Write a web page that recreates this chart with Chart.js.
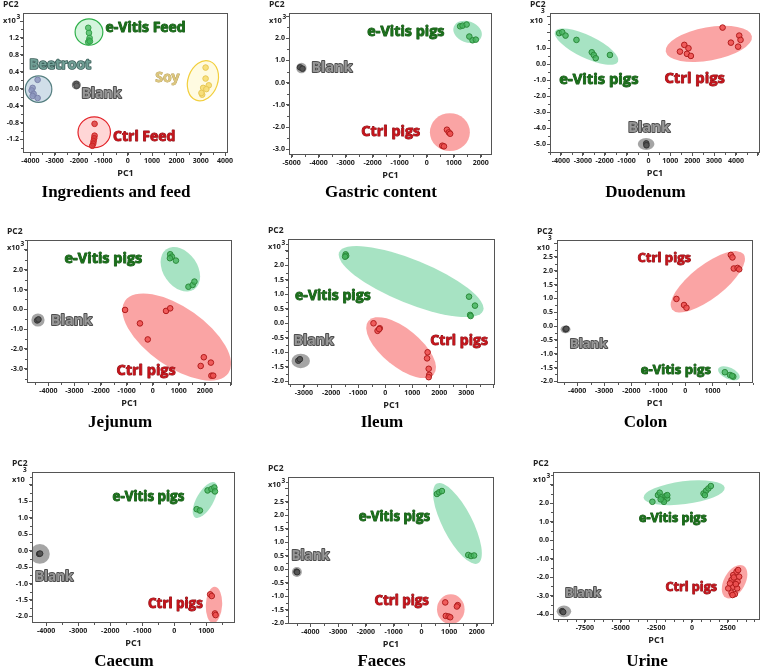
<!DOCTYPE html>
<html>
<head>
<meta charset="utf-8">
<script src="https://cdn.jsdelivr.net/npm/chart.js@4.4.1/dist/chart.umd.min.js"></script>
<style>
  body { margin: 0; background: #fff; }
  #wrap { position: relative; width: 763px; height: 671px; overflow: hidden; }
  .panel { position: absolute; }
  .title { position: absolute; font: bold 17px "Liberation Serif", "Times New Roman", serif; color: #000;
           white-space: nowrap; transform: translate(-50%, -50%); }
</style>
</head>
<body>
<div id="wrap"></div>
<script>
// PCA score values: PC1 as is, PC2 in units of 10^3.
// Ellipses are [centreX, centreY, axisEndX, axisEndY, minor/major ratio] in data units.

// Ingredients and feed
const ingGroups = ["Beetroot", "Blank", "e-Vitis Feed", "Soy", "Ctrl Feed"];
const ingBeet = [[-3700, 0.21], [-3905, 0.02], [-3946, -0.04], [-3864, -0.12], [-3905, -0.17], [-3700, -0.22]];
const ingBlank = [[-2110, 0.11], [-2095, 0.07]];
const ingEVitis = [[-1620, 1.44], [-1590, 1.32], [-1565, 1.20], [-1590, 1.14], [-1620, 1.10], [-1550, 1.12]];
const ingSoy = [[3200, 0.50], [3200, 0.24], [3100, 0.02], [3330, 0.08], [3230, -0.01], [3060, -0.14], [3030, -0.10]];
const ingCtrl = [[-1360, -0.83], [-1360, -1.11], [-1375, -1.17], [-1400, -1.24], [-1415, -1.30], [-1455, -1.35]];
const ingEllipses = [[-3660, -0.01, -3116, -0.01, 1], [-2110, 0.09, -1950, 0.09, 1], [-1590, 1.34, -1020, 1.34, 0.95],
                     [3090, 0.19, 3370, 0.65, 0.72], [-1374, -1.03, -707, -1.03, 0.95]];
const ingLabels = [[-4040, 0.55], [-1900, -0.13], [-910, 1.44], [1130, 0.25], [-600, -1.14]];

const pigGroups = ["e-Vitis pigs", "Ctrl pigs", "Blank"];

// Gastric content
const gasEVitis = [[1240, 2.54], [1330, 2.57], [1480, 2.62], [1580, 2.08], [1700, 1.91], [1820, 1.94]];
const gasCtrl = [[750, -2.12], [820, -2.24], [870, -2.30], [580, -2.84], [640, -2.87]];
const gasBlank = [[-4690, 0.69], [-4600, 0.63]];
const gasEllipses = [[1515, 2.29, 2025, 2.06, 0.72], [860, -2.23, 1600, -2.23, 0.95], [-4640, 0.66, -4446, 0.66, 1]];
const gasLabels = [[-2200, 2.29], [-2420, -2.23], [-4270, 0.65]];

// Duodenum
const duoEVitis = [[-4080, 1.94], [-3940, 2.0], [-3790, 1.79], [-3290, 1.52], [-2590, 0.75], [-2500, 0.58], [-2410, 0.38], [-1760, 0.58]];
const duoCtrl = [[1640, 1.21], [1440, 0.79], [1830, 1.0], [1760, 0.65], [1940, 0.52], [3390, 2.29], [3770, 1.35], [4150, 1.79], [4210, 1.52], [4100, 1.10]];
const duoBlank = [[-100, -4.94], [-90, -5.06]];
const duoEllipses = [[-2830, 1.1, -4270, 2.04, 0.32], [2760, 1.27, 4730, 1.75, 0.38], [-106, -4.98, 274, -4.98, 0.72]];
const duoLabels = [[-4080, -0.98], [730, -0.9], [-940, -3.96]];

// Jejunum
const jejEVitis = [[670, 2.78], [735, 2.66], [660, 2.58], [890, 2.46], [1370, 1.14], [1530, 1.23], [1600, 1.40]];
const jejCtrl = [[-1060, -0.03], [-490, -0.71], [-190, -1.52], [510, -0.08], [670, 0.05], [1840, -2.86], [1960, -2.42], [2230, -2.69], [2250, -3.35], [2320, -3.35]];
const jejBlank = [[-4430, -0.56], [-4380, -0.51]];
const jejEllipses = [[1060, 2.02, 1595, 1.01, 0.7], [920, -1.40, 2900, -3.23, 0.47], [-4400, -0.54, -4147, -0.54, 1]];
const jejLabels = [[-3380, 2.53], [-1390, -3.11], [-3910, -0.59]];

// Ileum
const ileEVitis = [[-1460, 2.38], [-1440, 2.33], [-1480, 2.30], [3100, 0.92], [3320, 0.61], [3140, 0.29], [3160, 0.25]];
const ileCtrl = [[-430, 0.0], [-200, -0.17], [-280, -0.26], [-220, -0.20], [1570, -1.0], [1550, -1.21], [1610, -1.57], [1630, -1.78], [1610, -1.86]];
const ileBlank = [[-3210, -1.29], [-3150, -1.24]];
const ileEllipses = [[960, 1.44, 3620, 0.43, 0.28], [590, -0.84, 1800, -1.76, 0.45], [-3120, -1.30, -2780, -1.30, 0.79]];
const ileLabels = [[-3330, 0.94], [1670, -0.61], [-3390, -0.61]];

// Colon
const colEVitis = [[1460, -1.67], [1650, -1.77], [1770, -1.83], [1730, -1.80]];
const colCtrl = [[1680, 2.57], [1740, 2.48], [1790, 2.08], [1930, 2.10], [1990, 2.05], [-330, 0.98], [-50, 0.76], [40, 0.66]];
const colBlank = [[-4430, -0.12], [-4400, -0.10]];
const colEllipses = [[1610, -1.71, 2000, -1.88, 0.5], [830, 1.60, 2150, 2.60, 0.37], [-4430, -0.12, -4247, -0.12, 0.8]];
const colLabels = [[-1650, -1.59], [-1770, 2.45], [-4270, -0.66]];

// Caecum
const caeEVitis = [[1040, 1.83], [1160, 1.87], [1250, 1.92], [1270, 1.80], [700, 1.26], [800, 1.22]];
const caeCtrl = [[1120, -1.33], [1170, -1.38], [1270, -1.91], [1290, -1.96]];
const caeBlank = [[-4220, -0.10], [-4190, -0.09]];
const caeEllipses = [[960, 1.54, 1270, 2.07, 0.42], [1240, -1.65, 1270, -1.10, 0.45], [-4200, -0.1, -3890, -0.1, 1]];
const caeLabels = [[-1930, 1.62], [-820, -1.62], [-4350, -0.82]];

// Faeces
const faeEVitis = [[560, 2.79], [640, 2.85], [740, 2.90], [1690, 0.53], [1790, 0.49], [1900, 0.51]];
const faeCtrl = [[860, -1.23], [1310, -1.33], [1280, -1.38], [880, -1.73], [980, -1.75], [1040, -1.78]];
const faeBlank = [[-4500, -0.09], [-4480, -0.11]];
const faeEllipses = [[1300, 1.70, 2040, 0.22, 0.33], [1060, -1.48, 1060, -0.93, 0.93], [-4490, -0.10, -4310, -0.10, 1]];
const faeLabels = [[-2260, 1.93], [-1690, -1.20], [-4680, 0.47]];

// Urine
const uriEVitis = [[-2770, 2.07], [-2380, 2.43], [-2260, 2.56], [-2150, 2.31], [-2010, 2.16], [-1850, 2.38], [-1730, 2.25], [-1960, 2.07],
                   [-2190, 2.2], [-1730, 2.43], [810, 2.52], [990, 2.67], [1150, 2.79], [1320, 2.92], [900, 2.43]];
const uriCtrl = [[2540, -2.61], [2770, -2.16], [2890, -1.89], [3120, -1.71], [3230, -1.62], [3300, -1.98], [3190, -2.25], [2890, -2.52],
                 [2770, -2.85], [3000, -2.92], [3160, -2.61], [2660, -2.34], [2840, -2.97], [2930, -2.02], [3070, -2.38]];
const uriBlank = [[-9080, -3.84], [-9010, -3.89]];
const uriEllipses = [[-550, 2.56, 2290, 2.83, 0.28], [2980, -2.25, 3600, -1.39, 0.58], [-8960, -3.85, -8450, -3.85, 0.8]];
const uriLabels = [[-3700, 1.17], [-1850, -2.58], [-8890, -2.88]];

const looks = {
  ev:     { pt: "rgba(70,180,95,0.8)", ptb: "#2a8a3a", ell: "rgba(80,200,135,0.5)", txt: "#1a6f1a", out: "#135413", ow: 0.9 },
  ctrl:   { pt: "rgba(238,80,80,0.85)", ptb: "#b01c1c", ell: "rgba(245,90,90,0.55)", txt: "#c4141b", out: "#850c11", ow: 0.9 },
  blank:  { pt: "#555", ptb: "#333", ell: "rgba(105,105,105,0.6)", txt: "#979797", out: "#4d4d4d", ow: 1.9 },
  evF:    { pt: "rgba(70,185,95,0.75)", ptb: "#34a04a", ell: "rgba(160,232,180,0.45)", line: "#2fb04a", txt: "#1a6f1a", out: "#135413", ow: 0.9 },
  ctrlF:  { pt: "rgba(215,55,55,0.8)", ptb: "#c22", ell: "rgba(255,165,165,0.45)", line: "#e3242a", txt: "#c4141b", out: "#850c11", ow: 0.9 },
  beet:   { pt: "rgba(140,150,190,0.85)", ptb: "#7a82aa", ell: "rgba(170,195,215,0.55)", line: "#557f80", txt: "#72a097", out: "#3b5f5a", ow: 1.7 },
  soy:    { pt: "rgba(248,222,120,0.95)", ptb: "#e6c755", ell: "rgba(255,248,205,0.6)", line: "#f2cf3e", txt: "#dcc67e", out: "#b39a50", ow: 0.8 },
  blankF: { pt: "#666", ptb: "#444", ell: "rgba(190,190,190,0.7)", line: "#777", txt: "#979797", out: "#4d4d4d", ow: 1.9 }
};

const pigLooks = ["ev", "ctrl", "blank"];

const panels = [
  { title: "Ingredients and feed", box: [23, 13, 230, 153], x: [-4300, 4120, 1000, 4000], y: [-1.52, 1.79, 0.4, 1.3],
    groups: ingGroups, looks: ["beet", "blankF", "evF", "soy", "ctrlF"],
    points: [ingBeet, ingBlank, ingEVitis, ingSoy, ingCtrl], ellipses: ingEllipses, labels: ingLabels, font: 14, titleY: 192 },
  { title: "Gastric content", box: [289, 13, 494, 155], x: [-5100, 2420, 1000, 2000], y: [-3.26, 3.14, 1, 2.1],
    groups: pigGroups, looks: pigLooks, points: [gasEVitis, gasCtrl, gasBlank], ellipses: gasEllipses, labels: gasLabels, font: 14.4, titleY: 192 },
  { title: "Duodenum", box: [550, 13, 762, 153], x: [-4500, 5100, 1000, 4000], y: [-5.54, 3.2, 1, 1.1], supUp: true,
    groups: pigGroups, looks: pigLooks, points: [duoEVitis, duoCtrl, duoBlank], ellipses: duoEllipses, labels: duoLabels, font: 14.8, titleY: 192 },
  { title: "Jejunum", box: [27, 240, 234, 383], x: [-4820, 3040, 1000, 2000], y: [-3.72, 3.5, 1, 2.1],
    groups: pigGroups, looks: pigLooks, points: [jejEVitis, jejCtrl, jejBlank], ellipses: jejEllipses, labels: jejLabels, font: 14.5, titleY: 422 },
  { title: "Ileum", box: [288, 239, 497, 385], x: [-3590, 4060, 1000, 3000], y: [-2.13, 2.91, 0.5, 2.1],
    groups: pigGroups, looks: pigLooks, points: [ileEVitis, ileCtrl, ileBlank], ellipses: ileEllipses, labels: ileLabels, font: 14.1, titleY: 422 },
  { title: "Colon", box: [557, 240, 755, 383], x: [-4745, 2500, 1000, 1000], y: [-2.06, 3.11, 0.5, 2.6], supUp: true,
    groups: pigGroups, looks: pigLooks, points: [colEVitis, colCtrl, colBlank], ellipses: colEllipses, labels: colLabels, font: 13.1, titleY: 422 },
  { title: "Caecum", box: [32, 472, 237, 623], x: [-4444, 1896, 1000, 1000], y: [-2.2, 2.39, 0.5, 1.6], supUp: true,
    groups: pigGroups, looks: pigLooks, points: [caeEVitis, caeCtrl, caeBlank], ellipses: caeEllipses, labels: caeLabels, font: 13.4, titleY: 661 },
  { title: "Faeces", box: [288, 477, 496, 624], x: [-4810, 2618, 1000, 2000], y: [-2.03, 3.42, 0.5, 2.6],
    groups: pigGroups, looks: pigLooks, points: [faeEVitis, faeCtrl, faeBlank], ellipses: faeEllipses, labels: faeLabels, font: 13.3, titleY: 661 },
  { title: "Urine", box: [553, 472, 762, 620], x: [-9725, 4760, 2500, 2500], y: [-4.32, 3.68, 1, 2.1], minorX: 4,
    groups: pigGroups, looks: pigLooks, points: [uriEVitis, uriCtrl, uriBlank], ellipses: uriEllipses, labels: uriLabels, font: 12.6, titleY: 661 }
];

const PAD_TOP = 22, Y_W = 21, X_H = 30, PAD_R = 3;
const SANS = '"Open Sans", "DejaVu Sans", sans-serif';
const wrap = document.getElementById("wrap");

// multiples of step inside [min, max]
function stepTicks(min, max, step) {
  const out = [];
  for (let k = Math.ceil(min / step - 1e-9); k * step <= max + 1e-9; k++) {
    out.push({ value: Math.round(k * step * 1000) / 1000 });
  }
  return out;
}

function pcaPlugin(spec) {
  return {
    id: "pca",
    beforeDatasetsDraw(chart) {
      const { ctx, chartArea: a, scales: { x, y } } = chart;
      ctx.save();
      ctx.beginPath();
      ctx.rect(a.left, a.top, a.right - a.left, a.bottom - a.top);
      ctx.clip();
      spec.ellipses.forEach((e, i) => {
        const lk = looks[spec.looks[i]];
        const px = x.getPixelForValue(e[0]), py = y.getPixelForValue(e[1]);
        const qx = x.getPixelForValue(e[2]), qy = y.getPixelForValue(e[3]);
        const r = Math.hypot(qx - px, qy - py);
        ctx.beginPath();
        ctx.ellipse(px, py, r, r * e[4], Math.atan2(qy - py, qx - px), 0, Math.PI * 2);
        ctx.fillStyle = lk.ell;
        ctx.fill();
        if (lk.line) { ctx.lineWidth = 1.2; ctx.strokeStyle = lk.line; ctx.stroke(); }
      });
      ctx.restore();
    },
    afterDatasetsDraw(chart) {
      const { ctx, scales: { x, y } } = chart;
      ctx.save();
      ctx.font = "bold " + spec.font + "px " + SANS;
      ctx.textAlign = "left";
      ctx.textBaseline = "middle";
      ctx.lineJoin = "round";
      spec.labels.forEach((p, i) => {
        const lk = looks[spec.looks[i]];
        const px = x.getPixelForValue(p[0]), py = y.getPixelForValue(p[1]);
        if (lk.out) { ctx.lineWidth = lk.ow; ctx.strokeStyle = lk.out; ctx.strokeText(spec.groups[i], px, py); }
        ctx.fillStyle = lk.txt;
        ctx.fillText(spec.groups[i], px, py);
      });
      ctx.restore();
    },
    afterDraw(chart) {
      const { ctx, chartArea: a, scales: { x, y } } = chart;
      ctx.save();
      ctx.strokeStyle = "#555";
      ctx.lineWidth = 1;
      ctx.strokeRect(Math.round(a.left) + 0.5, Math.round(a.top) + 0.5, Math.round(a.right - a.left) - 1, Math.round(a.bottom - a.top) - 1);

      // minor ticks
      ctx.beginPath();
      stepTicks(spec.x[0], spec.x[1], spec.x[2] / (spec.minorX || 2)).forEach(t => {
        const px = Math.round(x.getPixelForValue(t.value)) + 0.5;
        ctx.moveTo(px, a.bottom); ctx.lineTo(px, a.bottom + 2);
      });
      stepTicks(spec.y[0], spec.y[1], spec.y[2] / 2).forEach(t => {
        const py = Math.round(y.getPixelForValue(t.value)) + 0.5;
        ctx.moveTo(a.left, py); ctx.lineTo(a.left - 2, py);
      });
      ctx.stroke();

      ctx.fillStyle = "#222";
      ctx.textBaseline = "middle";
      ctx.textAlign = "center";
      ctx.font = "bold 9px " + SANS;
      ctx.fillText("PC1", (a.left + a.right) / 2, a.bottom + 20);
      ctx.textAlign = "left";
      ctx.font = "bold 8.5px " + SANS;
      ctx.fillText("PC2", 1, a.top - 8);
      ctx.font = "bold 7.5px " + SANS;
      ctx.fillText("x10", 1, a.top + 8);
      const w = ctx.measureText("x10").width;
      ctx.font = "bold 6.5px " + SANS;
      ctx.fillText("3", 1 + w + (spec.supUp ? -2 : 0.5), a.top + 8 - (spec.supUp ? 10 : 4));
      ctx.restore();
    }
  };
}

function makePanel(spec) {
  const [bl, bt, br, bb] = spec.box;
  const W = br - bl + Y_W + PAD_R, H = bb - bt + PAD_TOP + X_H;
  const div = document.createElement("div");
  div.className = "panel";
  div.style.left = (bl - Y_W) + "px";
  div.style.top = (bt - PAD_TOP) + "px";
  const cv = document.createElement("canvas");
  cv.width = W; cv.height = H;
  cv.style.width = W + "px"; cv.style.height = H + "px";
  div.appendChild(cv);
  wrap.appendChild(div);

  const t = document.createElement("div");
  t.className = "title";
  t.textContent = spec.title;
  t.style.left = ((bl - Y_W + br) / 2) + "px";
  t.style.top = spec.titleY + "px";
  wrap.appendChild(t);

  const datasets = spec.points.map((pts, i) => {
    const lk = looks[spec.looks[i]];
    return {
      label: spec.groups[i],
      data: pts.map(p => ({ x: p[0], y: p[1] })),
      backgroundColor: lk.pt,
      borderColor: lk.ptb,
      borderWidth: 1,
      pointRadius: 2.8
    };
  });

  const tickFont = { size: 7, weight: "bold", family: SANS };
  new Chart(cv, {
    type: "scatter",
    data: { datasets },
    options: {
      responsive: false,
      animation: false,
      devicePixelRatio: 1,
      layout: { padding: { top: PAD_TOP, right: PAD_R, left: 0, bottom: 0 } },
      plugins: { legend: { display: false }, tooltip: { enabled: false } },
      scales: {
        x: {
          type: "linear", min: spec.x[0], max: spec.x[1],
          afterBuildTicks(s) { s.ticks = stepTicks(spec.x[0], spec.x[1], spec.x[2]); },
          afterFit(s) { s.height = X_H; s.paddingLeft = 0; s.paddingRight = 0; },
          grid: { drawOnChartArea: false, tickLength: 3, color: "#555" },
          border: { display: false },
          ticks: {
            autoSkip: false, maxRotation: 0, padding: 1, font: tickFont, color: "#222",
            callback: v => (v > spec.x[3] ? "" : String(v))
          }
        },
        y: {
          type: "linear", min: spec.y[0], max: spec.y[1],
          afterBuildTicks(s) { s.ticks = stepTicks(spec.y[0], spec.y[1], spec.y[2]); },
          afterFit(s) { s.width = Y_W; s.paddingTop = 0; s.paddingBottom = 0; },
          grid: { drawOnChartArea: false, tickLength: 3, color: "#555" },
          border: { display: false },
          ticks: {
            autoSkip: false, padding: 1, font: tickFont, color: "#222",
            callback: v => (v > spec.y[3] ? "" : v.toFixed(1))
          }
        }
      }
    },
    plugins: [pcaPlugin(spec)]
  });
}

panels.forEach(makePanel);
</script>
</body>
</html>
